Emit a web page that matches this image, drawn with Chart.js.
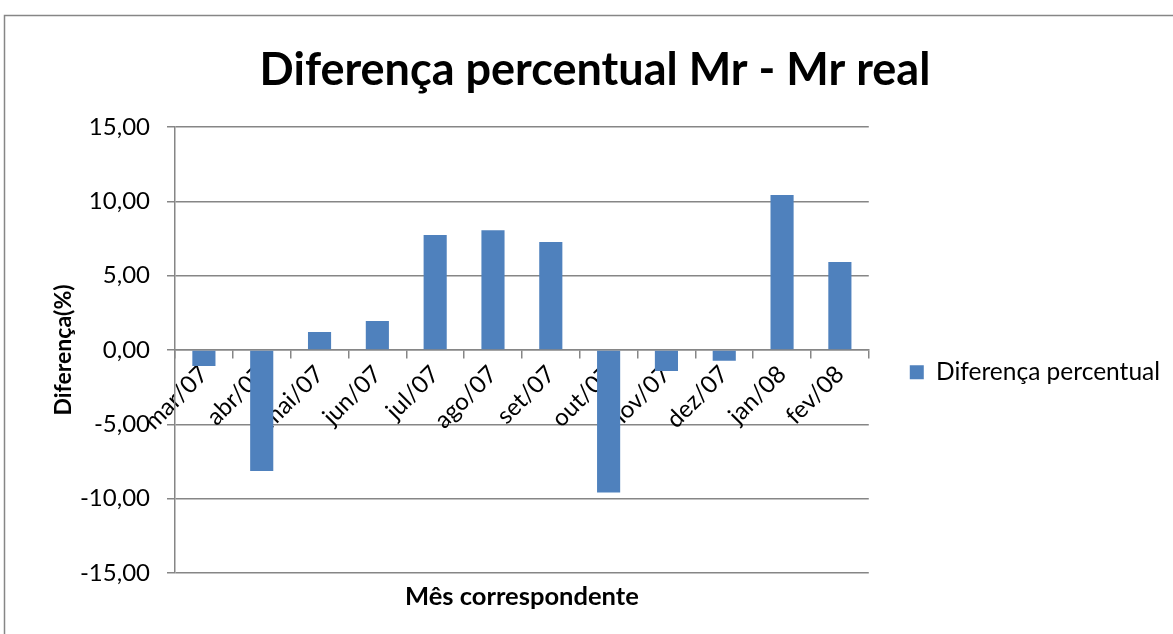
<!DOCTYPE html>
<html>
<head>
<meta charset="utf-8">
<title>Diferença percentual Mr - Mr real</title>
<script src="https://cdn.jsdelivr.net/npm/chart.js@4/dist/chart.umd.min.js"></script>
<style>
  html, body { margin: 0; padding: 0; background: #fff; }
  #wrap { width: 1173px; height: 634px; }
</style>
</head>
<body>
<div id="wrap"><canvas id="chart"></canvas></div>
<script>
// meses e diferença percentual entre Mr calculado e Mr real
const meses = ["mar/07", "abr/07", "mai/07", "jun/07", "jul/07", "ago/07",
               "set/07", "out/07", "nov/07", "dez/07", "jan/08", "fev/08"];
const diferenca = [-1.08, -8.14, 1.21, 1.95, 7.74, 8.05, 7.27, -9.58, -1.41, -0.72, 10.43, 5.92];
const serieNome = "Diferença percentual";
const yMin = -15, yMax = 15, yPasso = 5;

const FONTE = "Lato, 'Open Sans', sans-serif";
const CINZA = "#868686";

// moldura cinza do gráfico
const moldura = {
    id: "moldura",
    beforeDraw(chart) {
        const ctx = chart.ctx;
        ctx.save();
        ctx.fillStyle = "#fff";
        ctx.fillRect(0, 0, chart.width, chart.height);
        ctx.strokeStyle = CINZA;
        ctx.lineWidth = 1.5;
        ctx.strokeRect(4.5, 15.5, chart.width + 20, chart.height + 20);
        ctx.restore();
    }
};

const formatar = v => v.toFixed(2).replace(".", ",");

new Chart(document.getElementById("chart"), {
    type: "bar",
    data: {
        labels: meses,
        datasets: [{
            label: serieNome,
            data: diferenca,
            backgroundColor: "#4f81bd",
            borderWidth: 0,
            barPercentage: 0.4,
            categoryPercentage: 1
        }]
    },
    options: {
        responsive: true,
        maintainAspectRatio: false,
        animation: false,
        layout: { padding: { left: 20, right: 3, top: 0, bottom: 0 } },
        plugins: {
            title: {
                display: true,
                text: "Diferença percentual Mr - Mr real",
                color: "#000",
                font: { family: FONTE, size: 45, weight: "bold", lineHeight: 1.2 },
                padding: { top: 43, bottom: 30 }
            },
            legend: {
                position: "right",
                fullSize: false,
                maxWidth: 400,
                title: { display: true, text: "", padding: 15 },
                labels: {
                    color: "#000",
                    font: { family: FONTE, size: 24.5 },
                    boxWidth: 14,
                    boxHeight: 14,
                    padding: 41
                }
            },
            tooltip: { enabled: false }
        },
        scales: {
            x: {
                position: { y: 0 },
                offset: true,
                grid: {
                    offset: true,
                    drawOnChartArea: false,
                    drawTicks: true,
                    tickLength: 8,
                    color: CINZA,
                    lineWidth: 1.5
                },
                border: { display: true, color: CINZA, width: 1.5 },
                ticks: {
                    color: "#000",
                    font: { family: FONTE, size: 24 },
                    minRotation: 45,
                    maxRotation: 45,
                    autoSkip: false,
                    padding: 2
                }
            },
            eixoX: {
                type: "category",
                labels: meses,
                position: "bottom",
                grid: { display: false, drawTicks: false },
                border: { display: false },
                ticks: { display: false },
                title: {
                    display: true,
                    text: "Mês correspondente",
                    color: "#000",
                    font: { family: FONTE, size: 25.5, weight: "bold", lineHeight: 1.2 },
                    padding: { top: 0, bottom: 22 }
                },
                afterFit(scale) { scale.height = 61; }
            },
            y: {
                min: yMin,
                max: yMax,
                ticks: {
                    stepSize: yPasso,
                    color: "#000",
                    font: { family: FONTE, size: 24 },
                    padding: 17,
                    callback: v => formatar(v)
                },
                grid: { color: CINZA, lineWidth: 1.5, tickLength: 8 },
                border: { display: true, color: CINZA, width: 1.5 },
                title: {
                    display: true,
                    text: "Diferença(%)",
                    color: "#000",
                    font: { family: FONTE, size: 23, weight: "bold", lineHeight: 1.2 },
                    padding: { top: 30, bottom: 0 }
                },
                afterFit(scale) { scale.width = 155; }
            }
        }
    },
    plugins: [moldura]
});
</script>
</body>
</html>
